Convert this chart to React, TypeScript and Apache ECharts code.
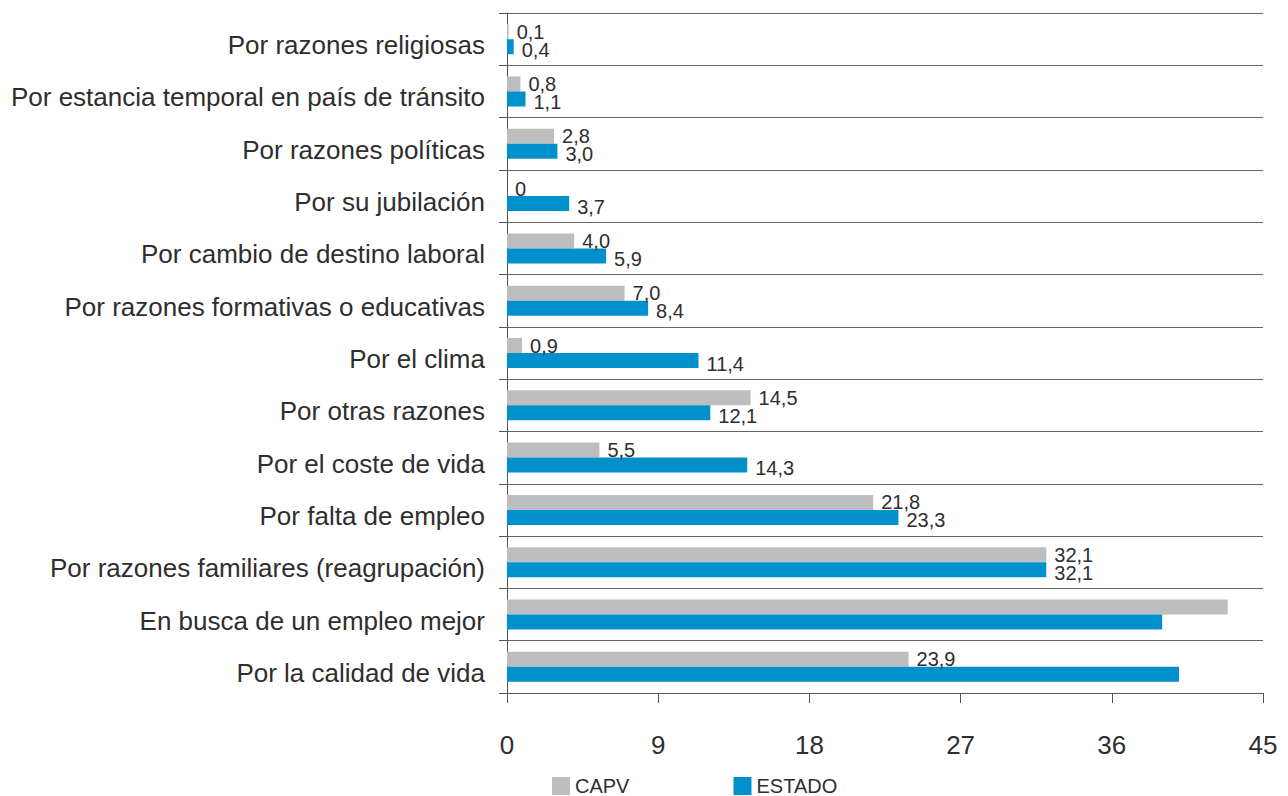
import React, { useEffect, useRef } from "react";
import * as echarts from "echarts";

const categories = [
  "Por razones religiosas",
  "Por estancia temporal en país de tránsito",
  "Por razones políticas",
  "Por su jubilación",
  "Por cambio de destino laboral",
  "Por razones formativas o educativas",
  "Por el clima",
  "Por otras razones",
  "Por el coste de vida",
  "Por falta de empleo",
  "Por razones familiares (reagrupación)",
  "En busca de un empleo mejor",
  "Por la calidad de vida",
];

const capvValues = [0.1, 0.8, 2.8, 0, 4.0, 7.0, 0.9, 14.5, 5.5, 21.8, 32.1, 42.9, 23.9];
const estadoValues = [0.4, 1.1, 3.0, 3.7, 5.9, 8.4, 11.4, 12.1, 14.3, 23.3, 32.1, 39.0, 40.0];

// labels hidden in the original for these bars
const capvHidden = ["En busca de un empleo mejor"];
const estadoHidden = ["En busca de un empleo mejor", "Por la calidad de vida"];

const xTicks = [0, 9, 18, 27, 36, 45];

const FONT = "'Liberation Sans', Arial, Helvetica, sans-serif";
const TEXT = "#2e2e2e";
const LINE = "#555555";

const fmt = (v: number) => (v === 0 ? "0" : v.toFixed(1).replace(".", ","));

function buildData(values: number[], hidden: string[]) {
  return values.map((v, i) =>
    hidden.includes(categories[i]) ? { value: v, label: { show: false } } : { value: v }
  );
}

export default function App() {
  const ref = useRef<HTMLDivElement>(null);

  useEffect(() => {
    if (!ref.current) return;
    const chart = echarts.init(ref.current, undefined, { renderer: "svg" });
    chart.setOption({
      animation: false,
      backgroundColor: "#ffffff",
      textStyle: { fontFamily: FONT },
      grid: { left: 507, right: 25, top: 13, bottom: 103, containLabel: false },
      legend: {
        left: 547,
        top: 771,
        itemWidth: 18,
        itemHeight: 18,
        itemGap: 104,
        icon: "rect",
        textStyle: { fontSize: 20, lineHeight: 18, color: TEXT, fontFamily: FONT },
        data: ["CAPV", "ESTADO"],
      },
      xAxis: {
        type: "value",
        min: xTicks[0],
        max: xTicks[xTicks.length - 1],
        interval: 9,
        axisLine: { show: true, lineStyle: { color: LINE, width: 1 } },
        axisTick: { show: true, length: 10, lineStyle: { color: LINE } },
        splitLine: { show: false },
        axisLabel: { fontSize: 26, color: TEXT, margin: 39, fontFamily: FONT },
      },
      yAxis: {
        type: "category",
        inverse: true,
        data: categories,
        axisLine: { show: true, lineStyle: { color: LINE, width: 1 } },
        axisTick: { show: true, length: 8, alignWithLabel: false, lineStyle: { color: LINE } },
        splitLine: { show: true, lineStyle: { color: "#666666", width: 1 } },
        axisLabel: {
          fontSize: 26,
          color: TEXT,
          margin: 22,
          fontFamily: FONT,
          verticalAlign: "top",
          lineHeight: 12,
        },
      },
      series: [
        {
          name: "CAPV",
          type: "bar",
          barWidth: 15,
          barGap: "0%",
          itemStyle: { color: "#bdbec0" },
          label: {
            show: true,
            position: "right",
            distance: 8,
            offset: [0, 0],
            fontSize: 20,
            lineHeight: 14,
            color: TEXT,
            fontFamily: FONT,
            formatter: (p: any) => fmt(p.value),
          },
          data: buildData(capvValues, capvHidden),
        },
        {
          name: "ESTADO",
          type: "bar",
          barWidth: 15,
          barGap: "0%",
          itemStyle: { color: "#0091cd" },
          label: {
            show: true,
            position: "right",
            distance: 8,
            offset: [0, 3],
            fontSize: 20,
            lineHeight: 14,
            color: TEXT,
            fontFamily: FONT,
            formatter: (p: any) => fmt(p.value),
          },
          data: buildData(estadoValues, estadoHidden),
        },
      ],
    });
    return () => chart.dispose();
  }, []);

  return (
    <div
      ref={ref}
      style={{ position: "fixed", left: 0, top: 0, width: 1288, height: 796, background: "#fff" }}
    />
  );
}
